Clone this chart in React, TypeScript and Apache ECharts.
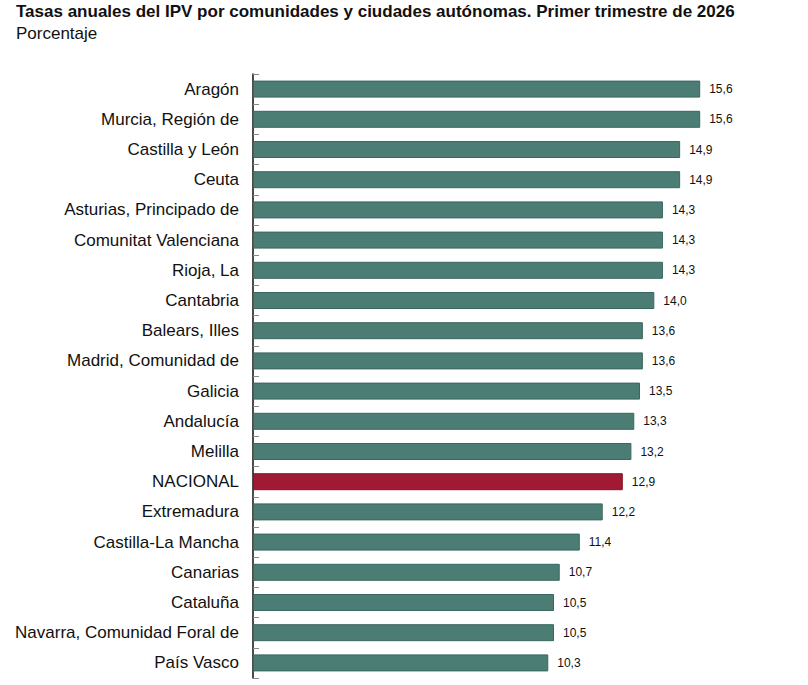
import React, { useEffect, useRef } from "react";
import * as echarts from "echarts";

const TITLE = "Tasas anuales del IPV por comunidades y ciudades autónomas. Primer trimestre de 2026";
const SUBTITLE = "Porcentaje";

const categories = [
  "Aragón",
  "Murcia, Región de",
  "Castilla y León",
  "Ceuta",
  "Asturias, Principado de",
  "Comunitat Valenciana",
  "Rioja, La",
  "Cantabria",
  "Balears, Illes",
  "Madrid, Comunidad de",
  "Galicia",
  "Andalucía",
  "Melilla",
  "NACIONAL",
  "Extremadura",
  "Castilla-La Mancha",
  "Canarias",
  "Cataluña",
  "Navarra, Comunidad Foral de",
  "País Vasco",
];

const values = [15.6, 15.6, 14.9, 14.9, 14.3, 14.3, 14.3, 14.0, 13.6, 13.6, 13.5, 13.3, 13.2, 12.9, 12.2, 11.4, 10.7, 10.5, 10.5, 10.3];

const highlight = "NACIONAL";

const TEAL = "#4b7d74";
const TEAL_BORDER = "#3a675f";
const RED = "#a01a33";
const RED_BORDER = "#85122a";
const FONT = "'Liberation Sans', Arial, Helvetica, sans-serif";

export default function App() {
  const ref = useRef<HTMLDivElement>(null);
  useEffect(() => {
    if (!ref.current) return;
    const chart = echarts.init(ref.current, undefined, { renderer: "svg" });
    chart.setOption({
      animation: false,
      backgroundColor: "#ffffff",
      textStyle: { fontFamily: FONT },
      title: [
        {
          text: TITLE,
          left: 16,
          top: 3,
          padding: 0,
          textStyle: { fontFamily: FONT, fontSize: 17, fontWeight: "bold", color: "#111" },
        },
        {
          text: SUBTITLE,
          left: 16,
          top: 25,
          padding: 0,
          textStyle: { fontFamily: FONT, fontSize: 17, fontWeight: "normal", color: "#111" },
        },
      ],
      grid: { left: 253, top: 74, height: 604, width: 516, containLabel: false },
      xAxis: {
        type: "value",
        min: 0,
        max: 18,
        show: false,
      },
      yAxis: {
        type: "category",
        data: categories,
        inverse: true,
        axisLine: { show: true, lineStyle: { color: "#111", width: 1.5 } },
        axisTick: { show: true, inside: true, length: 6, lineStyle: { color: "#888", width: 1 } },
        axisLabel: { fontFamily: FONT, fontSize: 17, color: "#111", margin: 14 },
        splitLine: { show: false },
      },
      series: [
        {
          type: "bar",
          barWidth: 17,
          data: values.map((v, i) => ({
            value: v,
            itemStyle: {
              color: categories[i] === highlight ? RED : TEAL,
              borderColor: categories[i] === highlight ? RED_BORDER : TEAL_BORDER,
              borderWidth: 1,
            },
          })),
          label: {
            show: true,
            position: "right",
            distance: 9,
            fontFamily: FONT,
            fontSize: 12,
            color: "#111",
            formatter: (p: any) => Number(p.value).toFixed(1).replace(".", ","),
          },
        },
      ],
    });
    return () => chart.dispose();
  }, []);
  return (
    <div
      ref={ref}
      style={{ position: "fixed", left: 0, top: 0, width: 808, height: 685, background: "#fff" }}
    />
  );
}
